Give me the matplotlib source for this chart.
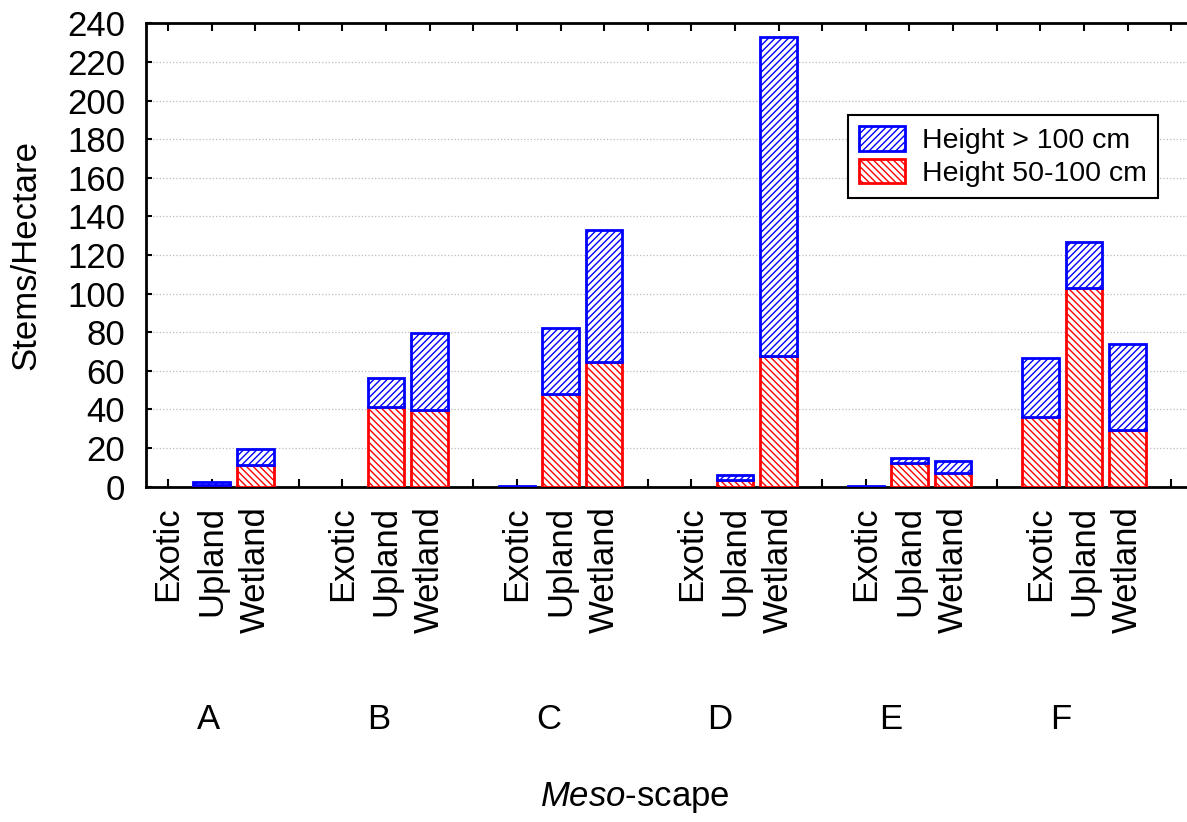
import numpy as np
import matplotlib
matplotlib.use("Agg")
import matplotlib.pyplot as plt
import matplotlib.transforms as mtransforms
from matplotlib import font_manager

# ---------------------------------------------------------------
# Stems per hectare by meso-scape and species group
# ---------------------------------------------------------------
groups     = ["A", "B", "C", "D", "E", "F"]
categories = ["Exotic", "Upland", "Wetland"]

# height 50-100 cm (lower, red segment)
mid_stems = [
    [0.0,   1.0,  11.0],
    [0.0,  41.5,  39.5],
    [0.0,  48.0,  64.5],
    [0.0,   3.5,  67.5],
    [0.0,  12.5,   7.0],
    [36.0, 103.0, 29.5],
]
# total stems (both height classes stacked)
total_stems = [
    [0.0,   2.5,  19.5],
    [0.0,  56.5,  79.5],
    [0.5,  82.0, 133.0],
    [0.0,   6.0, 233.0],
    [0.5,  15.0,  13.5],
    [66.5, 126.5, 74.0],
]

y_ticks = list(range(0, 241, 20))

BLUE = "#0000FF"
RED  = "#FF0000"

# pick fonts
installed = {f.name for f in font_manager.fontManager.ttflist}
MAIN = "Liberation Sans"
NARROW = "Liberation Sans Narrow" if "Liberation Sans Narrow" in installed else "Liberation Sans"

plt.rcParams["font.family"] = MAIN
plt.rcParams["hatch.linewidth"] = 1.0
plt.rcParams["mathtext.fontset"] = "custom"
plt.rcParams["mathtext.it"] = NARROW + ":italic"
plt.rcParams["mathtext.rm"] = NARROW

W, H = 1187, 822
fig = plt.figure(figsize=(W / 100, H / 100), dpi=100)
fig.patch.set_facecolor("white")

# axes box in pixels: left 146, right ~1193, top 23, bottom 487
left_px, right_px, top_px, bot_px = 146.2, 1193.0, 23.3, 486.7
ax = fig.add_axes([left_px / W, 1 - bot_px / H,
                   (right_px - left_px) / W, (bot_px - top_px) / H])

# ---------------------------------------------------------------
# Bars: 4 slots per group (3 categories + 1 empty gap)
# ---------------------------------------------------------------
mid = np.array(mid_stems).ravel()
tot = np.array(total_stems).ravel()
tall = tot - mid

xs, labels = [], []
for gi in range(len(groups)):
    for ci, cat in enumerate(categories):
        xs.append(gi * 4 + ci)
        labels.append(cat)
xs = np.array(xs)

bw = 0.84
m_red = mid > 0
m_blue = tall > 0
ax.bar(xs[m_red], mid[m_red], width=bw, color="white", edgecolor=RED,
       hatch="\\\\\\\\\\", linewidth=2, zorder=3, label="Height 50-100 cm")
ax.bar(xs[m_blue], tall[m_blue], bottom=mid[m_blue], width=bw, color="white",
       edgecolor=BLUE, hatch="/////", linewidth=2, zorder=3,
       label="Height > 100 cm")

# ---------------------------------------------------------------
# Axes styling
# ---------------------------------------------------------------
ax.set_xlim(-0.5, 23.5)
ax.set_ylim(0, 240)
ax.set_yticks(y_ticks)
ax.set_yticklabels([str(v) for v in y_ticks], fontsize=25)

all_ticks = np.arange(24)
ax.set_xticks(all_ticks)
tick_text = [""] * 24
for x, lab in zip(xs, labels):
    tick_text[x] = lab
ax.set_xticklabels(tick_text, rotation=90, fontsize=25, va="top", ha="center")

ax.tick_params(axis="x", direction="in", length=6, width=1.5, pad=14,
               top=True, labeltop=False)
ax.tick_params(axis="y", direction="in", length=4, width=1.5, pad=15,
               right=True, labelright=False)

for s in ax.spines.values():
    s.set_linewidth(2)
    s.set_color("black")

ax.yaxis.grid(True, linestyle=":", color="#BBBBBB", linewidth=0.9, zorder=0)
ax.set_axisbelow(True)

ax.set_ylabel("Stems/Hectare", fontsize=25)
ax.yaxis.set_label_coords((42 - left_px) / (right_px - left_px), 0.5)

# group letters and axis title below the category labels
trans = mtransforms.blended_transform_factory(ax.transData, fig.transFigure)
group_x = 0.92 + 3.91 * np.arange(len(groups))
for gx, g in zip(group_x, groups):
    ax.text(gx, 1 - 719 / H, g, transform=trans, fontsize=25,
            family=NARROW, ha="center", va="center")
ax.text(group_x.mean(), 1 - 797 / H, r"$\mathit{Meso}$-scape",
        transform=trans, fontsize=25, family=NARROW,
        ha="center", va="center")

# legend: blue first
handles, labs = ax.get_legend_handles_labels()
leg = ax.legend(handles[::-1], labs[::-1], loc="upper left",
                bbox_to_anchor=(848 / W, 1 - 115 / H),
                bbox_transform=fig.transFigure,
                fontsize=20.5, frameon=True, fancybox=False, framealpha=1,
                edgecolor="black", borderaxespad=0,
                handlelength=1.6, handleheight=0.95,
                labelspacing=0.15, handletextpad=0.6,
                borderpad=0.4)
leg.get_frame().set_linewidth(1.5)

fig.savefig("out.png", dpi=100, facecolor="white")
